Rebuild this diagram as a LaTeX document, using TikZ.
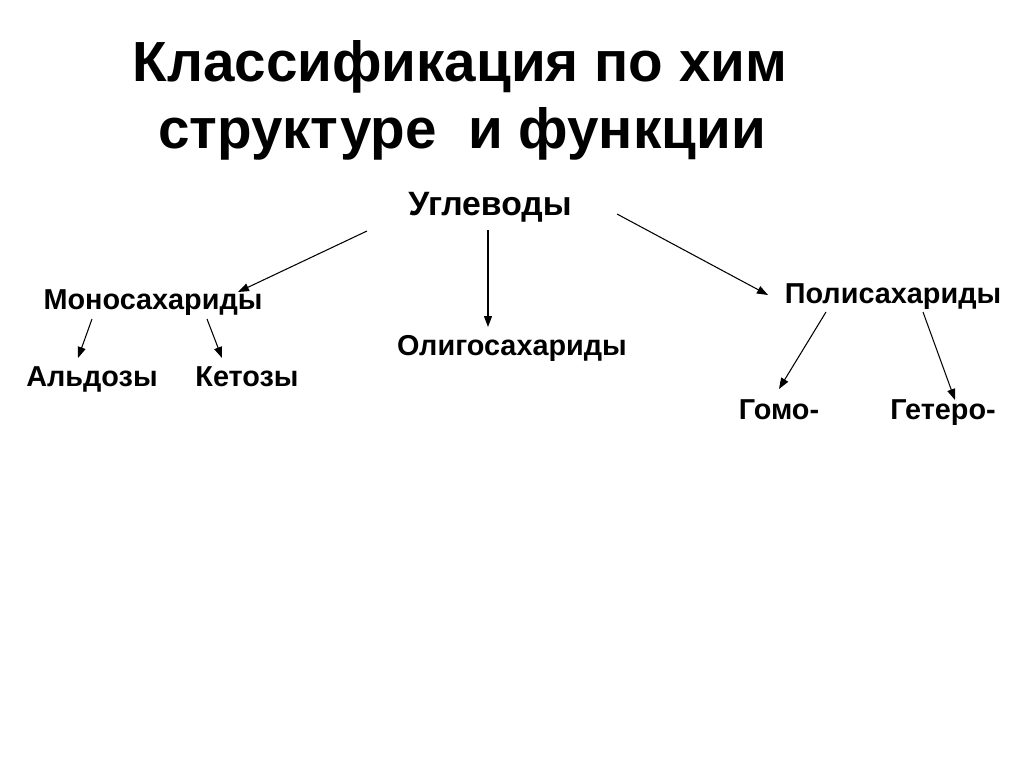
\documentclass[tikz,border=0pt]{standalone}
\usepackage{fontspec}
\setmainfont{Liberation Sans}
\usepackage{tikz}
\usetikzlibrary{arrows.meta, positioning}

\begin{document}
\begin{tikzpicture}[
    title/.style  = {font=\fontsize{32.2}{37}\selectfont\bfseries,
                     align=center, anchor=base, inner sep=0pt},
    root/.style   = {font=\fontsize{19.2}{22}\selectfont\bfseries,
                     anchor=base, inner sep=0pt},
    item/.style   = {font=\fontsize{16.4}{19}\selectfont\bfseries,
                     anchor=base, inner sep=0pt},
    arrow/.style  = {-{Triangle[length=2.2mm, width=1.6mm]}, line width=0.6pt}
]
\useasboundingbox[fill=white] (0,0) rectangle (20.48,-15.36);

% ========= title =========
\node[title] (head1) at (9.20,-1.63) {Классификация по хим};
\node[title] (head2) at (9.24,-2.97) {структуре\ \ и функции};

% ========= tree =========
\node[root] (carb)   at (9.80,-4.32)  {Углеводы};
\node[item] (mono)   at (3.06,-6.20)  {Моносахариды};
\node[item] (oligo)  at (10.24,-7.10) {Олигосахариды};
\node[item] (poly)   at (17.86,-6.06) {Полисахариды};
\node[item] (aldo)   at (1.84,-7.74)  {Альдозы};
\node[item] (keto)   at (4.94,-7.74)  {Кетозы};
\node[item] (homo)   at (15.58,-8.40) {Гомо-};
\node[item] (hetero) at (18.86,-8.40) {Гетеро-};

% ========= arrows =========
\draw[arrow] ([xshift=-2.46cm,yshift=-0.30cm]carb.base)
          -- ([xshift=1.70cm,yshift=0.36cm]mono.base);
\draw[arrow] ([xshift=-0.04cm,yshift=-0.28cm]carb.base)
          -- ([xshift=-0.48cm,yshift=0.56cm]oligo.base);
\draw[arrow] ([xshift=2.54cm,yshift=0.04cm]carb.base)
          -- ([xshift=-2.50cm,yshift=0.16cm]poly.base);
\draw[arrow] ([xshift=-1.22cm,yshift=-0.18cm]mono.base)
          -- ([xshift=-0.28cm,yshift=0.58cm]aldo.base);
\draw[arrow] ([xshift=1.08cm,yshift=-0.18cm]mono.base)
          -- ([xshift=-0.50cm,yshift=0.58cm]keto.base);
\draw[arrow] ([xshift=-1.34cm,yshift=-0.18cm]poly.base)
          -- ([yshift=0.62cm]homo.base);
\draw[arrow] ([xshift=0.60cm,yshift=-0.18cm]poly.base)
          -- ([xshift=0.24cm,yshift=0.40cm]hetero.base);

\end{tikzpicture}
\end{document}
